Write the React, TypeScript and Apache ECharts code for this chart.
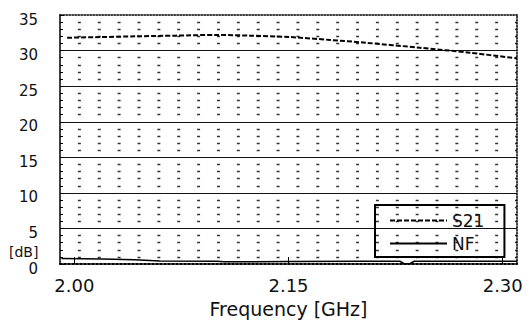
import React, { useEffect, useRef } from "react";
import * as echarts from "echarts";

// S21 gain curve (dB) vs frequency (GHz)
const freqS21 = [1.995, 2.018, 2.043, 2.071, 2.099, 2.123, 2.151, 2.179, 2.204, 2.242, 2.277, 2.31];
const s21 = [31.8, 31.9, 32.0, 32.1, 32.2, 32.1, 31.9, 31.5, 31.1, 30.4, 29.7, 28.9];

// Noise figure (dB) vs frequency (GHz)
const freqNF = [1.991, 2.02, 2.042, 2.06, 2.1, 2.105, 2.15, 2.2, 2.228, 2.231, 2.235, 2.238, 2.27, 2.31];
const nf = [0.8, 0.7, 0.6, 0.45, 0.4, 0.33, 0.35, 0.4, 0.4, 0.05, 0.05, 0.4, 0.4, 0.4];

const xTickValues = [2.0, 2.15, 2.3];
const seriesNames = ["S21", "NF"];

export default function App() {
  const ref = useRef<HTMLDivElement>(null);

  useEffect(() => {
    document.body.style.margin = "0";
    const chart = echarts.init(ref.current!, null, { renderer: "svg" });
    const W = 532;
    const gridLeft = 60;
    const gridRight = 15;
    const plotW = W - gridLeft - gridRight;
    const period = plotW / 23;
    const font = "DejaVu Sans";

    chart.setOption({
      animation: false,
      backgroundColor: "#fff",
      textStyle: { fontFamily: font, color: "#111" },
      grid: { left: gridLeft, right: gridRight, top: 15, bottom: 54, show: false },
      legend: {
        data: seriesNames,
        orient: "vertical",
        left: 375,
        top: 205,
        padding: [7, 20, 5, 14],
        itemWidth: 57,
        itemHeight: 14,
        itemGap: 6,
        borderColor: "#000",
        borderWidth: 2,
        borderRadius: 0,
        itemStyle: { opacity: 0 },
        textStyle: { fontFamily: font, fontSize: 17, color: "#111" },
      },
      xAxis: [
        {
          type: "value",
          min: 1.99,
          max: 2.31,
          position: "bottom",
          axisLine: { show: true, onZero: false, lineStyle: { color: "#000", width: 2, type: "dotted" } },
          axisTick: {
            show: true,
            inside: true,
            length: 7,
            customValues: xTickValues,
            lineStyle: { color: "#000", width: 1 },
          },
          axisLabel: {
            customValues: xTickValues,
            formatter: (v: number) => v.toFixed(2),
            margin: 12,
            fontSize: 18,
            fontFamily: font,
            color: "#111",
          },
          splitLine: { show: false },
          name: "Frequency [GHz]",
          nameLocation: "middle",
          nameGap: 32,
          nameTextStyle: { fontSize: 19, fontFamily: font, color: "#111" },
        },
        {
          type: "value",
          min: 0,
          max: 1,
          position: "top",
          axisLine: { show: true, onZero: false, lineStyle: { color: "#000", width: 1.5, type: "dotted" } },
          axisTick: { show: false },
          axisLabel: { show: false },
          splitLine: { show: false },
        },
      ],
      yAxis: [
        {
          type: "value",
          min: 0,
          max: 35,
          interval: 5,
          axisLine: { show: true, onZero: false, lineStyle: { color: "#000", width: 1.5 } },
          axisTick: { show: true, inside: true, length: 4, lineStyle: { color: "#000" } },
          minorTick: { show: true, splitNumber: 5, length: 3, lineStyle: { color: "#000" } },
          axisLabel: {
            margin: 22,
            fontSize: 15,
            fontFamily: font,
            color: "#111",
            verticalAlign: "top",
            lineHeight: 9,
          },
          splitLine: {
            show: true,
            showMinLine: false,
            showMaxLine: false,
            lineStyle: { color: "#111", width: 1.2, type: "solid" },
          },
          minorSplitLine: {
            show: true,
            lineStyle: { color: "#333", width: 1.3, type: [3, period - 3], dashOffset: 1.5 },
          },
        },
        {
          type: "value",
          min: 0,
          max: 1,
          position: "right",
          axisLine: { show: true, onZero: false, lineStyle: { color: "#000", width: 1.5, type: "dotted" } },
          axisTick: { show: false },
          axisLabel: { show: false },
          splitLine: { show: false },
        },
      ],
      graphic: [
        {
          type: "text",
          x: 9,
          y: 252,
          style: { text: "[dB]", fontSize: 14, fontFamily: font, fill: "#111", verticalAlign: "middle" },
        },
      ],
      series: [
        {
          name: "S21",
          type: "line",
          xAxisIndex: 0,
          yAxisIndex: 0,
          symbol: "none",
          smooth: 0.3,
          data: freqS21.map((f, i) => [f, s21[i]]),
          lineStyle: { color: "#000", width: 2, type: [5, 2] },
          itemStyle: { color: "#000" },
        },
        {
          name: "NF",
          type: "line",
          xAxisIndex: 0,
          yAxisIndex: 0,
          symbol: "none",
          data: freqNF.map((f, i) => [f, nf[i]]),
          lineStyle: { color: "#000", width: 1.5 },
          itemStyle: { color: "#000" },
        },
      ],
    });

    return () => chart.dispose();
  }, []);

  return <div ref={ref} style={{ width: 532, height: 323 }} />;
}
